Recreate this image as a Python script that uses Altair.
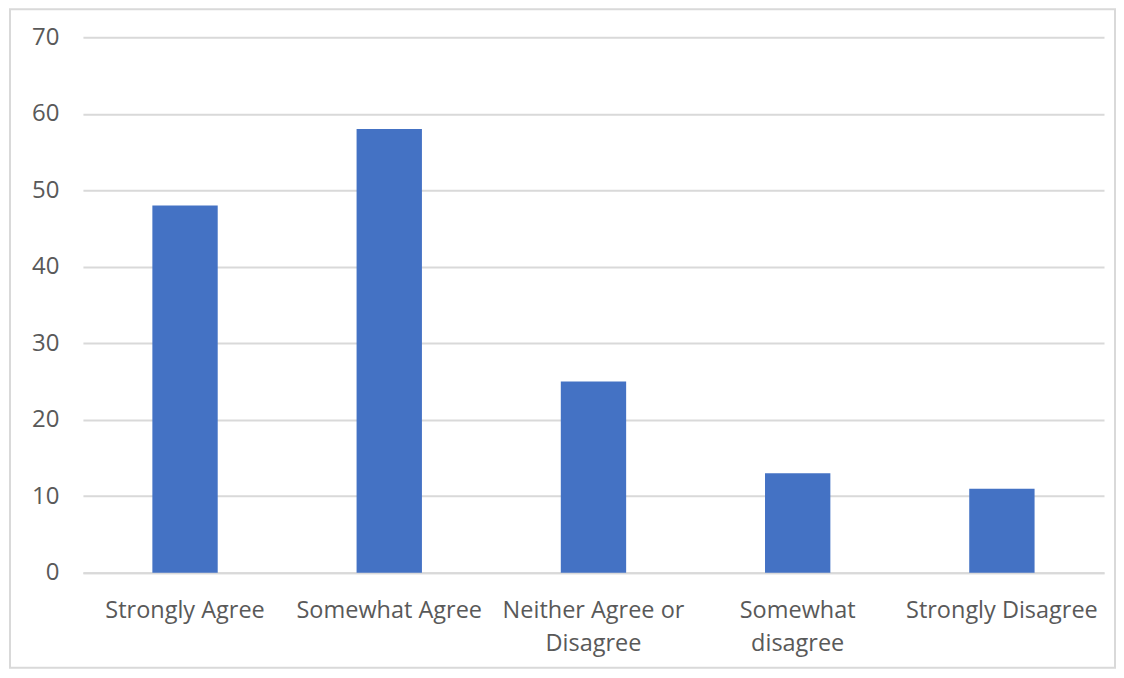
import altair as alt
import pandas as pd

categories = ["Strongly Agree", "Somewhat Agree", "Neither Agree or Disagree",
              "Somewhat disagree", "Strongly Disagree"]
values = [48, 58, 25, 13, 11]
y_ticks = [0, 10, 20, 30, 40, 50, 60, 70]

df = pd.DataFrame({"category": categories, "value": values})

label_expr = ("datum.label == 'Neither Agree or Disagree' ? ['Neither Agree or', 'Disagree'] : "
              "datum.label == 'Somewhat disagree' ? ['Somewhat', 'disagree'] : datum.label")

bars = alt.Chart(df).mark_bar(color="#4472C4").encode(
    x=alt.X("category:N", sort=categories, title=None,
            scale=alt.Scale(paddingInner=0.68, paddingOuter=0.34),
            axis=alt.Axis(labelAngle=0, labelExpr=label_expr, ticks=False,
                          domainColor="#d9d9d9", domainWidth=2,
                          labelFont="Open Sans", labelFontSize=23.5,
                          labelColor="#595959", labelPadding=26,
                          labelLineHeight=33, labelLimit=300)),
    y=alt.Y("value:Q", title=None,
            scale=alt.Scale(domain=[0, 70], nice=False),
            axis=alt.Axis(values=y_ticks, ticks=False, domain=False,
                          gridColor="#d9d9d9", gridWidth=2,
                          labelFont="Open Sans", labelFontSize=24,
                          labelColor="#595959", labelPadding=24)),
)

frame = alt.Chart(pd.DataFrame({"k": [0]})).mark_rect(
    fill=None, stroke="#d9d9d9", strokeWidth=2
).encode(
    x=alt.value(-73), x2=alt.value(1033),
    y=alt.value(-28), y2=alt.value(631),
)

chart = alt.layer(bars, frame).properties(
    width=1022, height=536,
    autosize=alt.AutoSizeParams(type="none"),
    padding={"left": 75, "top": 29, "right": 12, "bottom": 97},
).configure_view(stroke=None)

chart.save("out.html", embed_options={"renderer": "svg", "actions": False})
